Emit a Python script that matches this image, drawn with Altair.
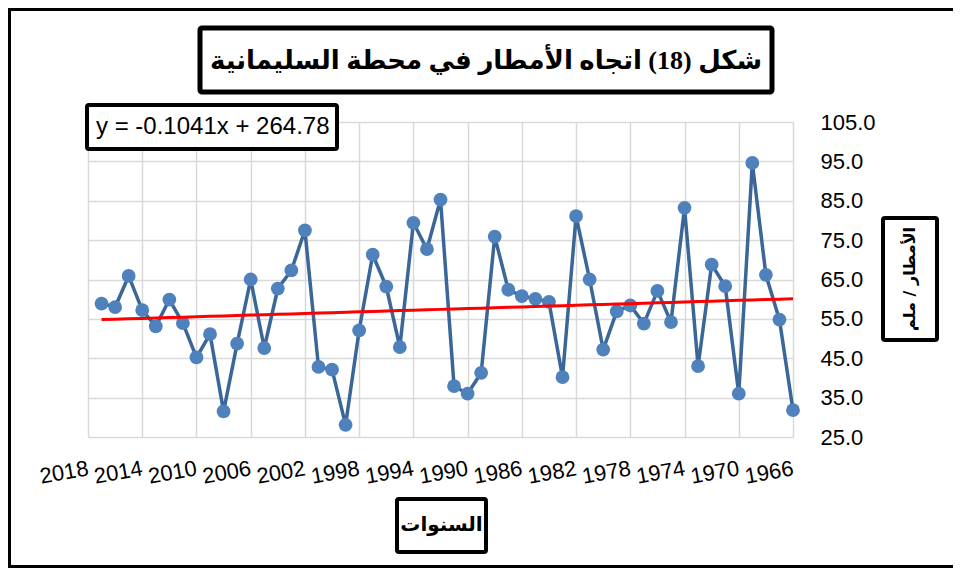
import altair as alt
import pandas as pd

# ---- data ----
years = [2017, 2016, 2015, 2014, 2013, 2012, 2011, 2010, 2009, 2008,
         2007, 2006, 2005, 2004, 2003, 2002, 2001, 2000, 1999, 1998,
         1997, 1996, 1995, 1994, 1993, 1992, 1991, 1990, 1989, 1988,
         1987, 1986, 1985, 1984, 1983, 1982, 1981, 1980, 1979, 1978,
         1977, 1976, 1975, 1974, 1973, 1972, 1971, 1970, 1969, 1968,
         1967, 1966]
rain = [58.9, 58.0, 65.9, 57.2, 53.1, 59.9, 53.9, 45.2, 51.1, 31.5,
        48.7, 65.0, 47.6, 62.7, 67.3, 77.5, 42.8, 42.1, 28.1, 52.1,
        71.3, 63.2, 47.8, 79.4, 72.7, 85.3, 37.9, 36.0, 41.3, 75.9,
        62.4, 60.8, 60.1, 59.3, 40.2, 81.1, 65.0, 47.2, 56.9, 58.4,
        53.8, 62.1, 54.2, 83.2, 43.0, 68.8, 63.3, 36.0, 94.6, 66.2,
        54.8, 31.8]
x_ticks = [2018, 2014, 2010, 2006, 2002, 1998, 1994, 1990, 1986, 1982,
           1978, 1974, 1970, 1966]
y_ticks = [25, 35, 45, 55, 65, 75, 85, 95, 105]
slope = -0.1041
intercept = 264.78

title_text = "شكل (18) اتجاه الأمطار في محطة السليمانية"
eq_text = "y = -0.1041x + 264.78"
x_title = "السنوات"
y_title = "الأمطار / ملم"

df = pd.DataFrame({"year": years, "rain": rain})
one = pd.DataFrame({"k": [0]})

W, H = 705, 315

xs = alt.Scale(domain=[1966, 2018], reverse=True, nice=False, zero=False)
ys = alt.Scale(domain=[25, 105], nice=False, zero=False)

x_axis = alt.Axis(
    values=x_ticks, format="d", title=None, grid=True, gridColor="#d9d9d9",
    gridWidth=1.5, ticks=False, domain=False, labelAngle=350,
    labelAlign="right", labelBaseline="top", labelPadding=21, labelOffset=-2,
    labelFontSize=22, labelFont="Liberation Sans", labelColor="#000",
    labelOverlap=False, labelBound=False, labelFlush=False)
y_axis = alt.Axis(
    values=y_ticks, format=".1f", title=None, orient="right", grid=True,
    gridColor="#d9d9d9", gridWidth=1.5, ticks=False, domain=False,
    labelPadding=27, labelFontSize=22, labelFont="Liberation Sans",
    labelColor="#000", labelAlign="left", labelOverlap=False,
    labelBound=False, labelFlush=False)

x_enc = alt.X("year:Q", scale=xs, axis=x_axis)
y_enc = alt.Y("rain:Q", scale=ys, axis=y_axis)

line = alt.Chart(df).mark_line(color="#3a6698", strokeWidth=3.5).encode(
    x=x_enc, y=y_enc)
points = alt.Chart(df).mark_circle(color="#4f81bd", opacity=1, size=190).encode(
    x=x_enc, y=y_enc)
trend = alt.Chart(df).transform_calculate(
    rain=f"{slope} * datum.year + {intercept}"
).mark_line(color="#ff0000", strokeWidth=3).encode(
    x=x_enc, y=y_enc)


def box(x1, x2, y1, y2, sw=4):
    return alt.Chart(one).mark_rect(fill="white", stroke="black",
                                    strokeWidth=sw, cornerRadius=2).encode(
        x=alt.value(x1), x2=alt.value(x2), y=alt.value(y1), y2=alt.value(y2))


def label(txt, x, y, size, font, bold=True, angle=0):
    kw = dict(text=txt, fontSize=size, font=font, color="black",
              align="center", baseline="middle")
    if bold:
        kw["fontWeight"] = "bold"
    if angle:
        kw["angle"] = angle
    return alt.Chart(one).mark_text(**kw).encode(x=alt.value(x), y=alt.value(y))


# decorations (pixel positions relative to the plot area)
title_box = box(112, 684, -94, -30, sw=5)
title_lbl = label(title_text, 398, -61, 26, "Liberation Serif, DejaVu Sans")
eq_box = box(-1, 249, -17, 27)
eq_lbl = alt.Chart(one).mark_text(text=eq_text, fontSize=24,
                                  font="Liberation Sans", color="black",
                                  align="left", baseline="middle").encode(
    x=alt.value(8), y=alt.value(5))
ybox = box(795, 849, 96, 218)
ylbl = label(y_title, 822, 157, 16, "DejaVu Sans", angle=270)
xbox = box(309, 398, 377, 430)
xlbl = label(x_title, 353.5, 403, 20, "DejaVu Sans")

frame_left = alt.Chart(one).mark_rule(color="black", strokeWidth=3).encode(
    x=alt.value(-78.5), y=alt.value(-114), y2=alt.value(446))
frame_top = alt.Chart(one).mark_rule(color="black", strokeWidth=3).encode(
    x=alt.value(-80), x2=alt.value(865), y=alt.value(-112.5))
frame_bottom = alt.Chart(one).mark_rule(color="black", strokeWidth=3).encode(
    x=alt.value(-80), x2=alt.value(865), y=alt.value(444.5))

chart = alt.layer(
    line, points, trend,
    title_box, title_lbl, eq_box, eq_lbl, ybox, ylbl, xbox, xlbl,
    frame_left, frame_top, frame_bottom
).properties(
    width=W, height=H,
    autosize=alt.AutoSizeParams(type="none"),
    padding={"left": 80, "top": 114, "right": 160, "bottom": 133},
).configure_view(stroke="black", strokeWidth=3).configure(background="white")

chart.save("out.html", embed_options={"renderer": "svg", "actions": False})
